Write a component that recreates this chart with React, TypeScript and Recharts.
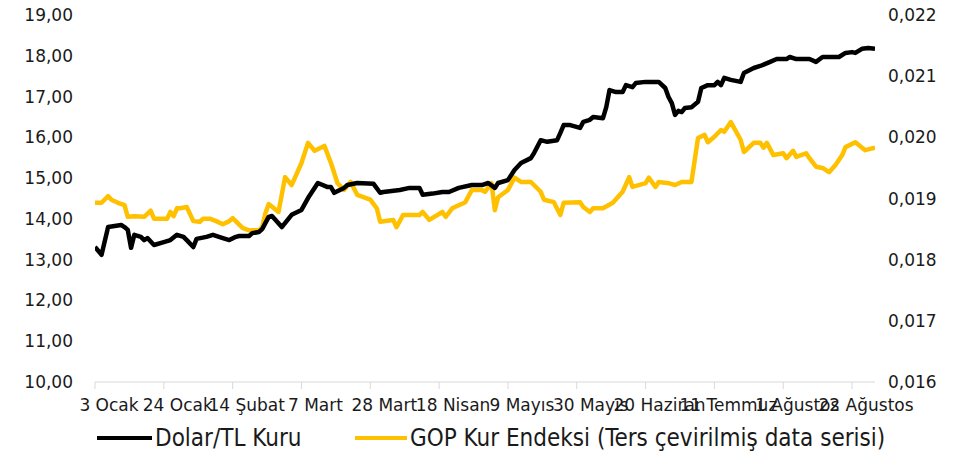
import { Legend, Line, LineChart, XAxis, YAxis } from 'recharts';

// day = calendar days since 3 Ocak
const tickDays = [0, 21, 42, 63, 84, 105, 126, 147, 168, 189, 210, 231];
const tickLabels = [
  '3 Ocak', '24 Ocak', '14 Şubat', '7 Mart', '28 Mart', '18 Nisan',
  '9 Mayıs', '30 Mayıs', '20 Haziran', '11 Temmuz', '1 Ağustos', '22 Ağustos',
];
const leftTicks = [10, 11, 12, 13, 14, 15, 16, 17, 18, 19];
const rightTicks = [0.016, 0.017, 0.018, 0.019, 0.02, 0.021, 0.022];

const dolarDays = [
  0, 2, 4, 8, 9, 10, 11, 12, 14, 15, 16, 18, 21, 23, 25, 27, 28, 30, 31, 34,
  36, 39, 41, 43, 44, 47, 48, 50, 51, 53, 54, 57, 60, 63, 65, 68, 71, 72, 73, 76,
  77, 80, 85, 87, 88, 93, 96, 99, 100, 103, 106, 108, 111, 115, 118, 120, 122, 123, 126, 128,
  130, 133, 134, 136, 138, 141, 142, 143, 145, 148, 149, 151, 152, 155, 156, 157, 159, 161, 162, 164,
  165, 168, 172, 174, 175, 176, 177, 178, 179, 180, 182, 184, 185, 187, 189, 190, 191, 192, 194, 197,
  198, 201, 203, 206, 208, 211, 212, 214, 218, 220, 222, 227, 229, 231, 232, 234, 236, 238,
];
const dolarValues = [
  13.31, 13.12, 13.8, 13.85, 13.8, 13.73, 13.29, 13.61, 13.56, 13.48, 13.53, 13.36, 13.43, 13.48, 13.61, 13.56, 13.48, 13.31, 13.51, 13.56,
  13.61, 13.53, 13.48, 13.56, 13.58, 13.58, 13.65, 13.68, 13.75, 14.05, 14.07, 13.8, 14.1, 14.22, 14.51, 14.88, 14.78, 14.78, 14.64, 14.76,
  14.83, 14.88, 14.86, 14.64, 14.66, 14.71, 14.76, 14.76, 14.59, 14.62, 14.66, 14.66, 14.76, 14.83, 14.83, 14.88, 14.76, 14.88, 14.95, 15.2,
  15.37, 15.49, 15.62, 15.93, 15.89, 15.93, 16.11, 16.3, 16.3, 16.23, 16.38, 16.43, 16.5, 16.47, 16.74, 17.16, 17.11, 17.11, 17.28, 17.23,
  17.33, 17.36, 17.36, 17.21, 16.99, 16.84, 16.55, 16.65, 16.62, 16.72, 16.74, 16.87, 17.21, 17.28, 17.28, 17.36, 17.28, 17.46, 17.41, 17.36,
  17.58, 17.7, 17.75, 17.85, 17.92, 17.92, 17.97, 17.92, 17.92, 17.85, 17.97, 17.97, 18.07, 18.09, 18.07, 18.17, 18.19, 18.17,
];

const gopDays = [
  0, 2, 4, 5, 7, 9, 10, 12, 15, 17, 18, 22, 23, 24, 25, 26, 28, 30, 32, 33,
  35, 37, 39, 41, 42, 45, 47, 50, 51, 52, 53, 56, 58, 60, 63, 65, 67, 70, 72, 74,
  76, 78, 80, 84, 86, 87, 91, 92, 94, 99, 100, 102, 106, 107, 109, 113, 115, 118, 119, 121,
  122, 123, 126, 128, 130, 133, 136, 137, 140, 142, 143, 148, 149, 151, 152, 155, 158, 161, 163, 164,
  168, 169, 171, 172, 175, 177, 179, 182, 184, 186, 187, 189, 191, 192, 194, 197, 198, 201, 203, 204,
  205, 207, 210, 211, 213, 214, 217, 218, 220, 222, 224, 226, 228, 229, 232, 235, 238,
];
const gopValues = [
  0.01893, 0.01893, 0.01904, 0.01898, 0.01893, 0.01889, 0.0187, 0.01871, 0.0187, 0.0188, 0.01867, 0.01867, 0.01878, 0.01871, 0.01884, 0.01884, 0.01886, 0.01863, 0.01862, 0.01867,
  0.01867, 0.01863, 0.01858, 0.01863, 0.01868, 0.01852, 0.01848, 0.01848, 0.01853, 0.01876, 0.01891, 0.01878, 0.01935, 0.01922, 0.01958, 0.01991, 0.01978, 0.01986, 0.01958, 0.01925,
  0.01914, 0.01927, 0.01906, 0.01898, 0.01884, 0.01862, 0.01865, 0.01853, 0.01873, 0.01873, 0.01878, 0.01865, 0.01878, 0.0187, 0.01884, 0.01894, 0.01914, 0.01914, 0.01911, 0.01925,
  0.01881, 0.01902, 0.01914, 0.01934, 0.01927, 0.01927, 0.01911, 0.01898, 0.01894, 0.01873, 0.01893, 0.01894, 0.01886, 0.01878, 0.01884, 0.01884, 0.01893, 0.01911, 0.01935, 0.01919,
  0.01925, 0.01934, 0.01919, 0.01927, 0.01925, 0.01922, 0.01927, 0.01927, 0.01999, 0.02004, 0.01992, 0.02001, 0.02012, 0.02009, 0.02025, 0.01996, 0.01976, 0.01991, 0.01991, 0.01983,
  0.01991, 0.01971, 0.01974, 0.01966, 0.01978, 0.01968, 0.01974, 0.01966, 0.01952, 0.0195, 0.01943, 0.01955, 0.01971, 0.01984, 0.01992, 0.01979, 0.01983,
];

const dolarData = dolarDays.map((day, i) => ({ day, dolar: dolarValues[i] }));
const gopData = gopDays.map((day, i) => ({ day, gop: gopValues[i] }));

const FONT = '"DejaVu Sans", sans-serif';
const TEXT = '#1a1a1a';

const XTick = ({ x, y, payload }: any) => {
  const i = tickDays.indexOf(payload.value);
  return (
    <text x={x + 14} y={y} dy="0.71em" textAnchor="middle" fill={TEXT} fontSize={17} fontFamily={FONT}>
      {tickLabels[i]}
    </text>
  );
};

const fmtLeft = (v: number) => v.toFixed(2).replace('.', ',');
const fmtRight = (v: number) => v.toFixed(3).replace('.', ',');

const LegendBox = () => (
  <div style={{ position: 'relative', height: 36, fontFamily: '"DejaVu Sans Condensed", "Liberation Sans Narrow", sans-serif', fontSize: 24, color: TEXT, lineHeight: '28px' }}>
    <div style={{ position: 'absolute', left: 97, top: 18, width: 55, height: 4, background: '#000' }} />
    <span style={{ position: 'absolute', left: 155, top: 6 }}>Dolar/TL Kuru</span>
    <div style={{ position: 'absolute', left: 355, top: 18, width: 52, height: 4, background: '#FFC000' }} />
    <span style={{ position: 'absolute', left: 410, top: 6 }}>GOP Kur Endeksi (Ters çevirilmiş data serisi)</span>
  </div>
);

export default function App() {
  return (
    <div style={{ position: 'absolute', left: 0, top: 0, width: 959, height: 461, background: '#fff' }}>
      <LineChart width={959} height={461} margin={{ top: 15, right: 0, bottom: 7, left: 0 }}>
        <XAxis
          type="number"
          dataKey="day"
          domain={[0, 238]}
          ticks={tickDays}
          allowDataOverflow
          height={36}
          stroke="#d9d9d9"
          tickSize={7}
          tickMargin={10}
          tick={<XTick />}
          interval={0}
        />
        <YAxis
          yAxisId="left"
          domain={[10, 19]}
          ticks={leftTicks}
          width={95}
          axisLine={false}
          tickLine={false}
          tickSize={0}
          tickMargin={22}
          tickFormatter={fmtLeft}
          tick={{ fill: TEXT, fontSize: 17, fontFamily: FONT }}
          interval={0}
        />
        <YAxis
          yAxisId="right"
          orientation="right"
          domain={[0.016, 0.022]}
          ticks={rightTicks}
          width={84}
          axisLine={false}
          tickLine={false}
          tickSize={0}
          tickMargin={13}
          tickFormatter={fmtRight}
          tick={{ fill: TEXT, fontSize: 17, fontFamily: FONT, textAnchor: 'start' }}
          interval={0}
        />
        <Line
          yAxisId="right"
          data={gopData}
          dataKey="gop"
          name="GOP Kur Endeksi (Ters çevirilmiş data serisi)"
          stroke="#FFC000"
          strokeWidth={4.5}
          strokeLinejoin="round"
          dot={false}
          isAnimationActive={false}
        />
        <Line
          yAxisId="left"
          data={dolarData}
          dataKey="dolar"
          name="Dolar/TL Kuru"
          stroke="#000000"
          strokeWidth={4.5}
          strokeLinejoin="round"
          dot={false}
          isAnimationActive={false}
        />
        <Legend verticalAlign="bottom" height={36} content={<LegendBox />} />
      </LineChart>
    </div>
  );
}
